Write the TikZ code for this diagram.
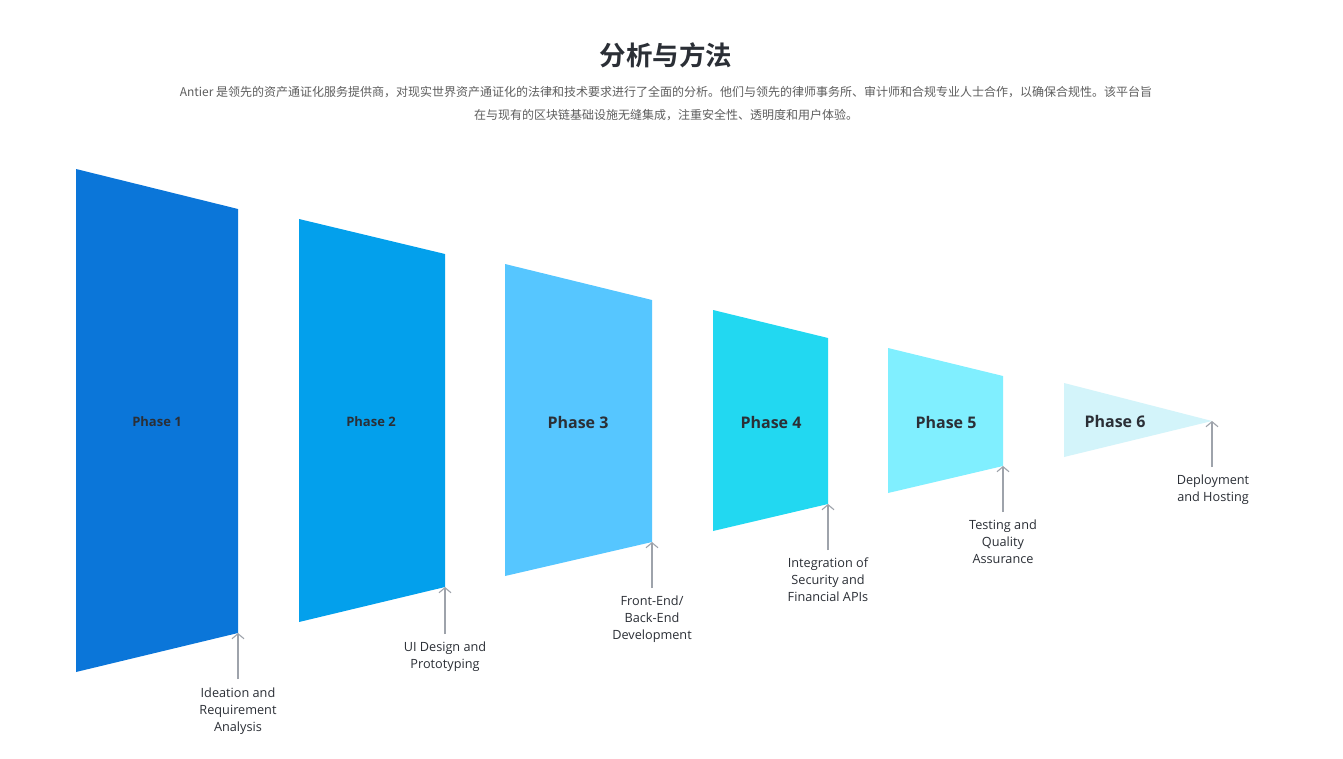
\documentclass[tikz,border=0pt]{standalone}
\usepackage{fontspec}
\setmainfont{Open Sans}
\newfontfamily\cjk{Noto Sans CJK SC}
\newfontfamily\cjkb{Noto Sans CJK SC Bold}
\usetikzlibrary{arrows.meta}
\definecolor{cP1}{HTML}{0B76D9}
\definecolor{cP2}{HTML}{03A0EC}
\definecolor{cP3}{HTML}{56C6FF}
\definecolor{cP4}{HTML}{22D8F1}
\definecolor{cP5}{HTML}{80EFFF}
\definecolor{cP6}{HTML}{D3F4FA}
\definecolor{txt}{HTML}{2B2F36}
\definecolor{sub}{HTML}{5E5E5E}
\definecolor{arrc}{HTML}{9EA3AB}
\begin{document}
\begin{tikzpicture}[x=1pt,y=-1pt,
  phasetxt/.style={font=\bfseries\fontsize{16}{18}\selectfont, text=txt, inner sep=0pt},
  phasesm/.style={font=\bfseries\fontsize{13}{15}\selectfont, text=txt, inner sep=0pt},
  lbl/.style={font=\fontsize{12.7}{17.2}\selectfont, text=txt, align=center, anchor=north, inner sep=0pt},
  arr/.style={draw=arrc, line width=1.1pt, -{Straight Barb[length=5pt,width=12pt,line width=1.1pt]}}
]
\useasboundingbox (0,0) rectangle (1343,758);
\fill[white] (0,0) rectangle (1343,758);

% title
\node[font=\cjkb\fontsize{26.5}{30}\selectfont, text=txt] (title) at (666,55) {分析与方法};
\node[font=\cjk\fontsize{12}{14}\selectfont, text=sub] (sub1) at (666,92) {Antier 是领先的资产通证化服务提供商，对现实世界资产通证化的法律和技术要求进行了全面的分析。他们与领先的律师事务所、审计师和合规专业人士合作，以确保合规性。该平台旨};
\node[font=\cjk\fontsize{12}{14}\selectfont, text=sub] (sub2) at (666,115) {在与现有的区块链基础设施无缝集成，注重安全性、透明度和用户体验。};

% corners
\coordinate (p1br) at (238,633);
\coordinate (p2br) at (445,587);
\coordinate (p3br) at (652,542);
\coordinate (p4br) at (828,504);
\coordinate (p5br) at (1003,466);
\coordinate (p6br) at (1212,421);

% shapes
\fill[cP1] (76,169) -- (238,209) -- (p1br) -- (76,672) -- cycle;
\fill[cP2] (299,219) -- (445,254) -- (p2br) -- (299,622) -- cycle;
\fill[cP3] (505,264) -- (652,300) -- (p3br) -- (505,576) -- cycle;
\fill[cP4] (713,310) -- (828,338) -- (p4br) -- (713,531) -- cycle;
\fill[cP5] (888,348) -- (1003,376) -- (p5br) -- (888,493) -- cycle;
\fill[cP6] (1064,383) -- (p6br) -- (1064,457) -- cycle;

% phase labels
\node[phasesm] (ph1) at (157,422) {Phase 1};
\node[phasesm] (ph2) at (371,422) {Phase 2};
\node[phasetxt] (ph3) at (578,422) {Phase 3};
\node[phasetxt] (ph4) at (771,422) {Phase 4};
\node[phasetxt] (ph5) at (946,422) {Phase 5};
\node[phasetxt] (ph6) at (1115,421) {Phase 6};

% bottom labels
\node[lbl] (l1) at (238,687.5) {Ideation and\\Requirement\\Analysis};
\node[lbl] (l2) at (445,641.5) {UI Design and\\Prototyping};
\node[lbl] (l3) at (652,595.5) {Front-End/\\Back-End\\Development};
\node[lbl] (l4) at (828,557.5) {Integration of\\Security and\\Financial APIs};
\node[lbl] (l5) at (1003,519.5) {Testing and\\Quality\\Assurance};
\node[lbl] (l6) at (1213,474.5) {Deployment\\and Hosting};

% arrow starts
\coordinate (a1) at (238,679);
\coordinate (a2) at (445,634);
\coordinate (a3) at (652,588);
\coordinate (a4) at (828,550);
\coordinate (a5) at (1003,512);
\coordinate (a6) at (1212,467);

\draw[arr] (a1) -- (p1br);
\draw[arr] (a2) -- (p2br);
\draw[arr] (a3) -- (p3br);
\draw[arr] (a4) -- (p4br);
\draw[arr] (a5) -- (p5br);
\draw[arr] (a6) -- (p6br);
\end{tikzpicture}
\end{document}
